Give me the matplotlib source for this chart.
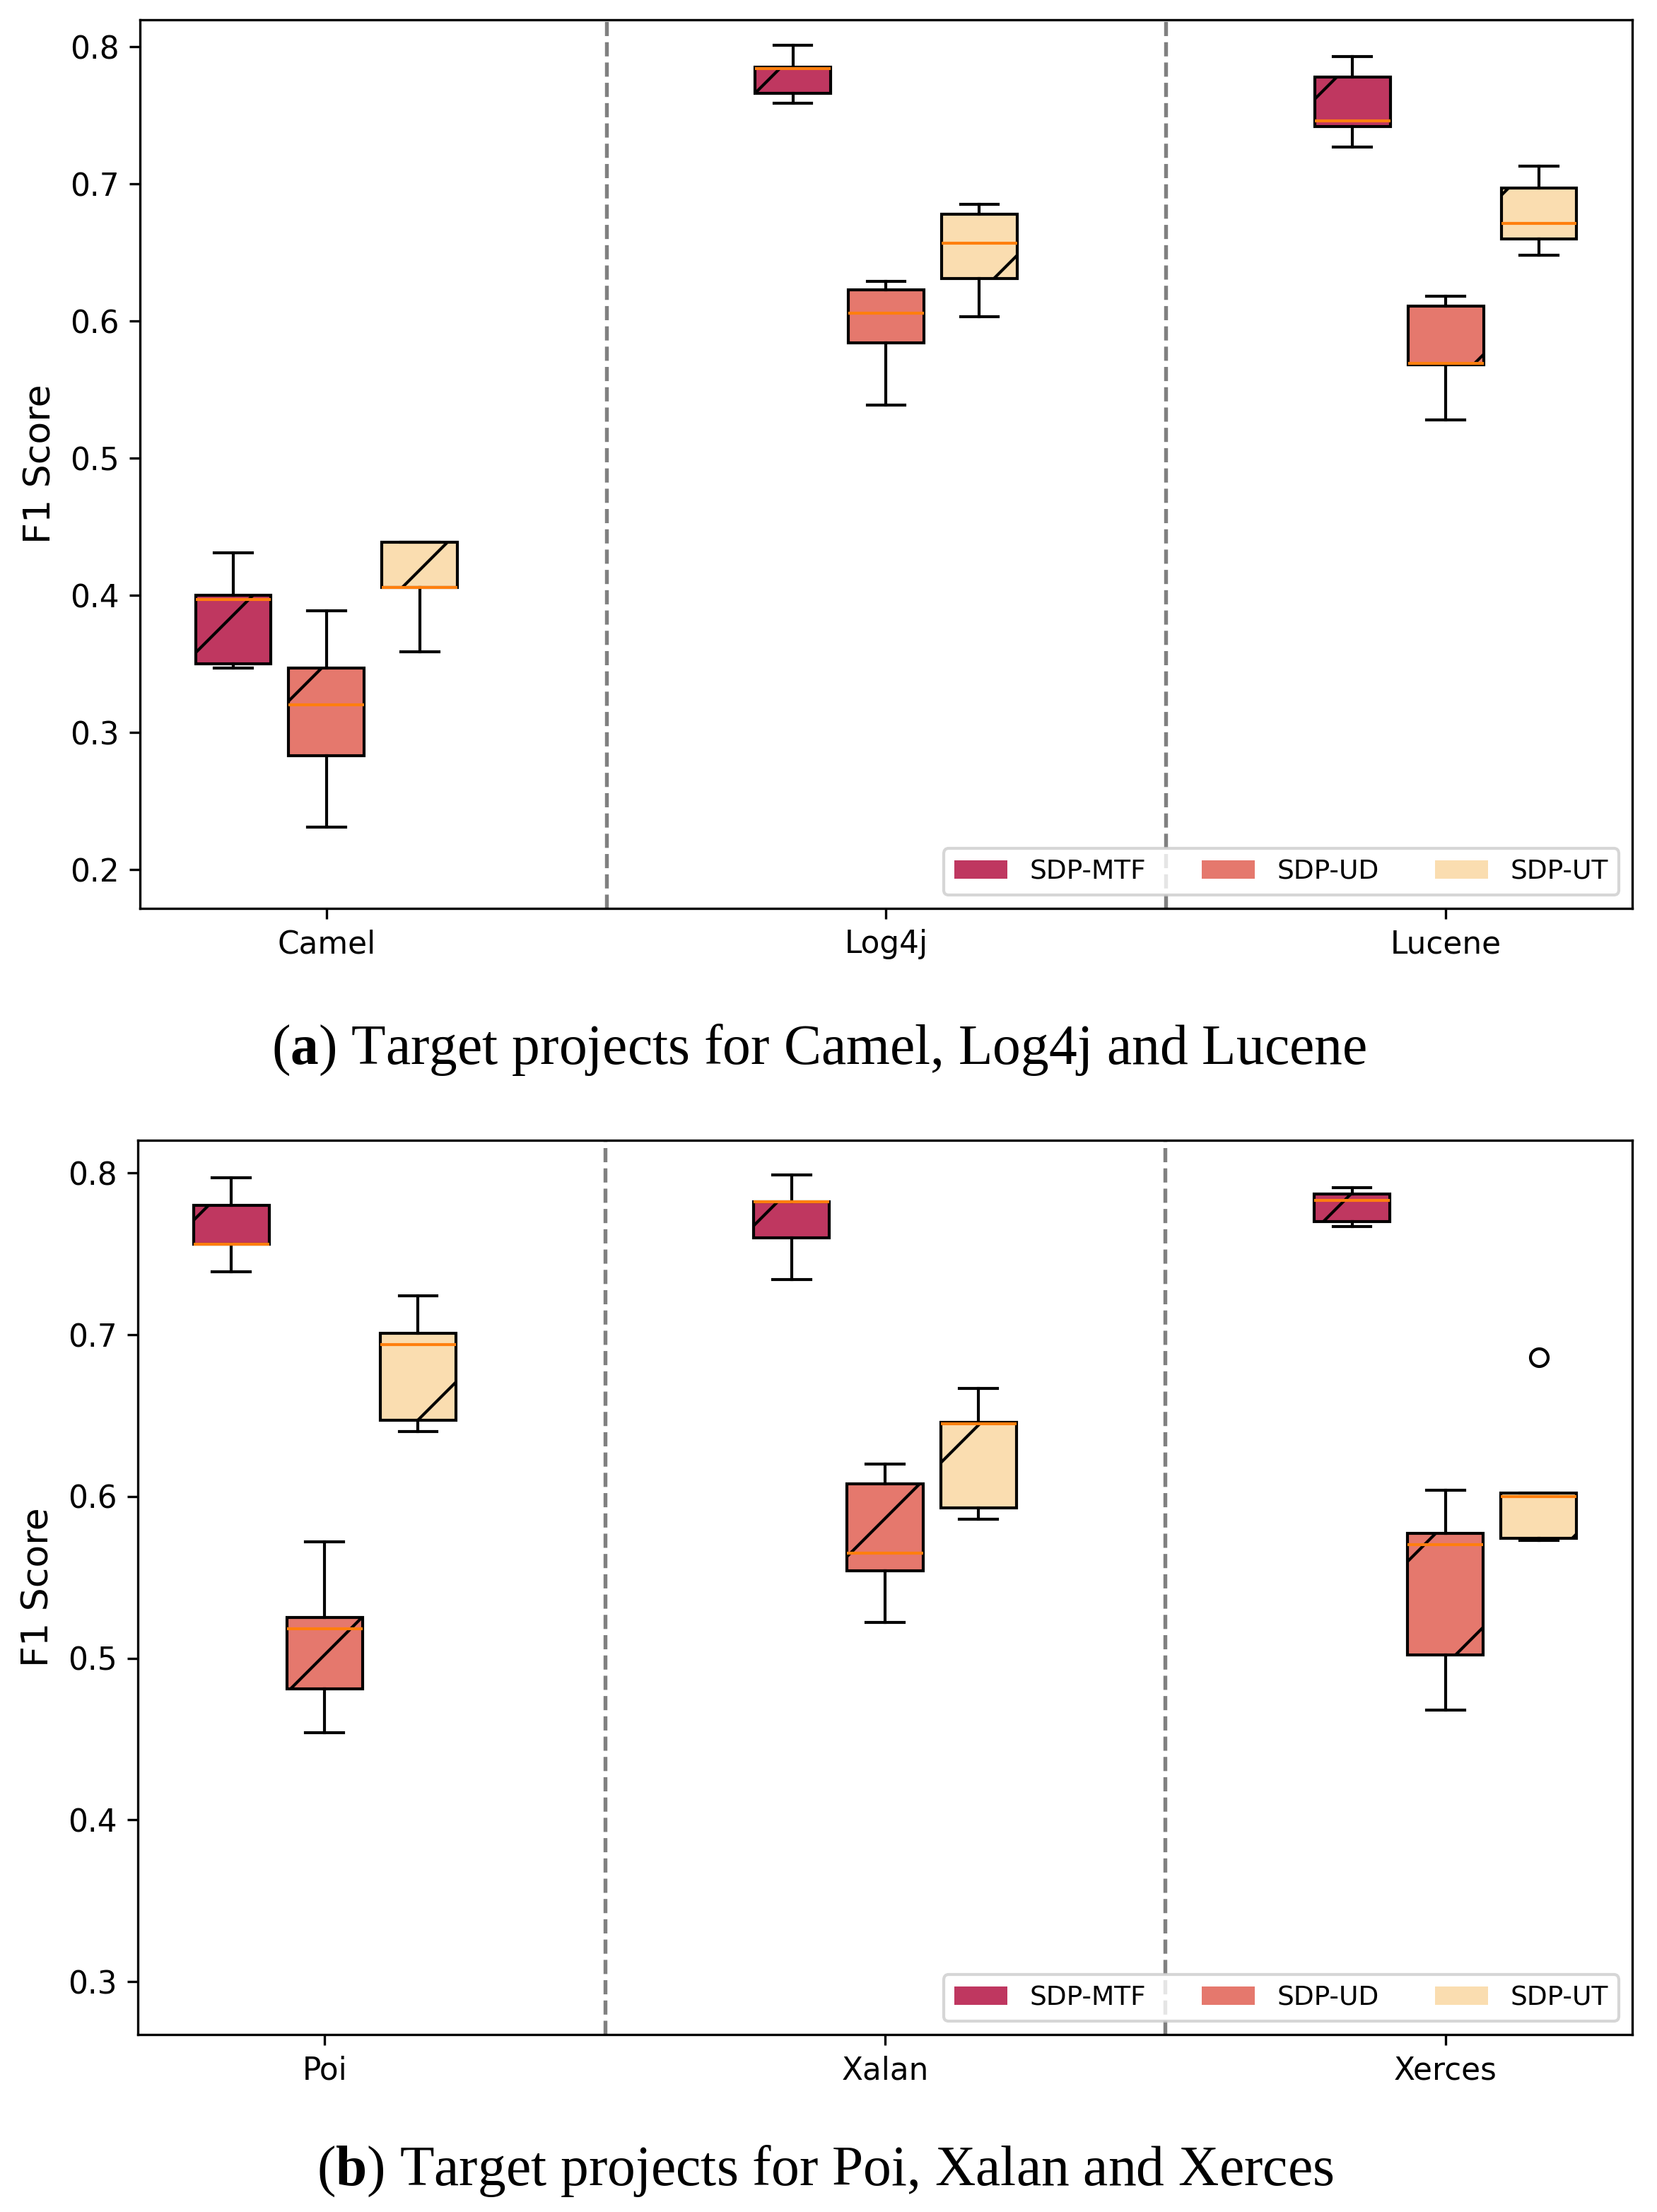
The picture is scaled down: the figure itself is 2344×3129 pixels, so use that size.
import matplotlib
matplotlib.use("Agg")
import matplotlib.pyplot as plt
from matplotlib.patches import Patch

# values: (whisker low, q1, median, q3, whisker high)
methods = ["SDP-MTF", "SDP-UD", "SDP-UT"]
colors = ["#bf3760", "#e5786d", "#faddb0"]

top_projects = ["Camel", "Log4j", "Lucene"]
top_mtf = [(0.347, 0.350, 0.397, 0.400, 0.431),
           (0.759, 0.766, 0.784, 0.785, 0.801),
           (0.727, 0.742, 0.746, 0.778, 0.793)]
top_ud = [(0.231, 0.283, 0.320, 0.347, 0.389),
          (0.539, 0.584, 0.606, 0.623, 0.629),
          (0.528, 0.568, 0.569, 0.611, 0.618)]
top_ut = [(0.359, 0.406, 0.406, 0.439, 0.439),
          (0.603, 0.631, 0.657, 0.678, 0.685),
          (0.648, 0.660, 0.671, 0.697, 0.713)]
top_fliers = [[[], [], []], [[], [], []], [[], [], []]]

bottom_projects = ["Poi", "Xalan", "Xerces"]
bottom_mtf = [(0.739, 0.756, 0.756, 0.780, 0.797),
              (0.734, 0.760, 0.782, 0.782, 0.799),
              (0.767, 0.770, 0.783, 0.787, 0.791)]
bottom_ud = [(0.454, 0.481, 0.518, 0.525, 0.572),
             (0.522, 0.554, 0.565, 0.608, 0.620),
             (0.468, 0.502, 0.570, 0.577, 0.604)]
bottom_ut = [(0.640, 0.647, 0.694, 0.701, 0.724),
             (0.586, 0.593, 0.645, 0.646, 0.667),
             (0.573, 0.574, 0.600, 0.602, 0.602)]
bottom_fliers = [[[], [], []], [[], [], []], [[], [], [0.686]]]

# figure is drawn at 600 dpi, so every size below is half the usual value
plt.rcParams.update({
    "font.family": "DejaVu Sans",
    "axes.linewidth": 0.4,
    "xtick.major.size": 1.75, "ytick.major.size": 1.75,
    "xtick.major.width": 0.4, "ytick.major.width": 0.4,
    "xtick.major.pad": 1.75, "ytick.major.pad": 1.75,
    "xtick.labelsize": 5.25, "ytick.labelsize": 5.25,
    "axes.labelsize": 6.25, "axes.labelpad": 2.0,
    "patch.linewidth": 0.5, "hatch.linewidth": 0.5,
    "lines.linewidth": 0.75, "lines.markersize": 3,
    "lines.markeredgewidth": 0.5,
    "mathtext.fontset": "custom",
    "mathtext.rm": "Liberation Serif",
    "mathtext.bf": "Liberation Serif:bold",
})


def draw_panel(ax, projects, series, fliers, ylim):
    for j, (stats, color) in enumerate(zip(series, colors)):
        boxes = []
        for i, s in enumerate(stats):
            boxes.append(dict(whislo=s[0], q1=s[1], med=s[2], q3=s[3],
                              whishi=s[4], fliers=fliers[j][i]))
        positions = [i + (j - 1) / 6 for i in range(len(projects))]
        art = ax.bxp(boxes, positions=positions, widths=0.135,
                     patch_artist=True, manage_ticks=False,
                     boxprops=dict(linewidth=0.5),
                     whiskerprops=dict(linewidth=0.5),
                     capprops=dict(linewidth=0.5),
                     medianprops=dict(color="#ff7f0e", linewidth=0.5),
                     flierprops=dict(marker="o", markersize=3,
                                     markerfacecolor="none",
                                     markeredgewidth=0.5))
        for b in art["boxes"]:
            b.set_facecolor(color)
            b.set_edgecolor("black")
            b.set_hatch("/")

    for x in [0.5, 1.5]:
        ax.axvline(x, color="gray", linestyle="--", linewidth=0.65)

    ax.set_xticks(range(len(projects)))
    ax.set_xticklabels(projects)
    ax.set_xlim(-1 / 3, len(projects) - 2 / 3)
    ax.set_ylim(*ylim)
    ax.set_ylabel("F1 Score")

    handles = [Patch(facecolor=c, label=m) for m, c in zip(methods, colors)]
    ax.legend(handles=handles, loc="lower right", ncol=3, fontsize=4.5,
              columnspacing=2.1, handletextpad=0.85)


W, H = 2344, 3129
fig = plt.figure(figsize=(W / 600, H / 600), dpi=600)

ax_top = fig.add_axes([198 / W, 1 - 1285 / H, (2309 - 198) / W, (1285 - 28) / H])
ax_bot = fig.add_axes([195 / W, 1 - 2878 / H, (2309 - 195) / W, (2878 - 1613) / H])

draw_panel(ax_top, top_projects, [top_mtf, top_ud, top_ut], top_fliers,
           (0.1718, 0.8197))
draw_panel(ax_bot, bottom_projects, [bottom_mtf, bottom_ud, bottom_ut],
           bottom_fliers, (0.2673, 0.8202))

fig.text(0.494, 1 - 1505 / H,
         r"($\mathbf{a}$) Target projects for Camel, Log4j and Lucene",
         ha="center", va="baseline", fontsize=9.55, family="Liberation Serif")
fig.text(0.498, 1 - 3091 / H,
         r"($\mathbf{b}$) Target projects for Poi, Xalan and Xerces",
         ha="center", va="baseline", fontsize=9.55, family="Liberation Serif")

fig.savefig("out.png", dpi=600)
plt.close(fig)
